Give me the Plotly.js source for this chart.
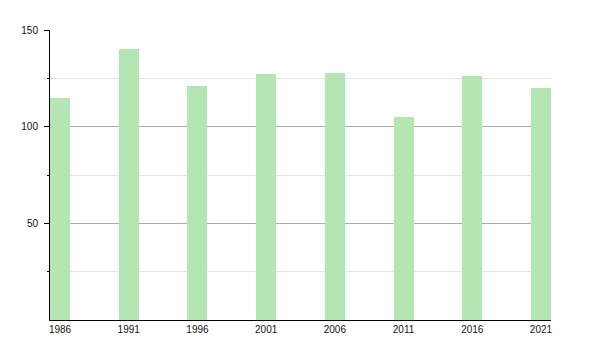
<!DOCTYPE html>
<html>
<head>
<meta charset="utf-8">
<script src="https://cdn.plot.ly/plotly-3.0.1.min.js"></script>
<style>html,body{margin:0;padding:0;background:#fff;}#chart{width:600px;height:350px;}</style>
</head>
<body>
<div id="chart"></div>
<script>
const years = [1986, 1991, 1996, 2001, 2006, 2011, 2016, 2021];
const values = [115, 140, 121, 127, 128, 105, 126, 120];
const yTicks = [50, 100, 150];

const barW = 1.46;
const trace = {
  type: 'bar',
  x: years,
  y: values,
  width: barW,
  marker: {color: '#b3e6b3', line: {width: 0}},
  hoverinfo: 'x+y'
};

const layout = {
  width: 600,
  height: 350,
  margin: {l: 50, r: 49, t: 30, b: 30, pad: 0},
  paper_bgcolor: '#ffffff',
  plot_bgcolor: '#ffffff',
  showlegend: false,
  font: {family: 'Liberation Sans, Arial, sans-serif', size: 10, color: '#111'},
  xaxis: {
    range: [years[0] - barW / 2, years[years.length - 1] + barW / 2],
    tickvals: years,
    ticktext: years.map(String),
    ticks: '',
    showgrid: false,
    zeroline: false,
    showline: true,
    linecolor: '#000',
    linewidth: 1,
    fixedrange: true
  },
  yaxis: {
    range: [0, 150],
    tickvals: yTicks,
    ticks: 'outside',
    ticklen: 5,
    tickcolor: '#000',
    ticklabelstandoff: 4,
    showgrid: true,
    gridcolor: '#aaaaaa',
    gridwidth: 1,
    zeroline: false,
    showline: true,
    linecolor: '#000',
    linewidth: 1,
    minor: {
      tickvals: [25, 75, 125],
      ticks: 'outside',
      ticklen: 2,
      tickcolor: '#000',
      showgrid: true,
      gridcolor: '#e4e4e4',
      gridwidth: 1
    },
    fixedrange: true
  },
  bargap: 0
};

Plotly.newPlot('chart', [trace], layout, {displayModeBar: false, staticPlot: true});
</script>
</body>
</html>
